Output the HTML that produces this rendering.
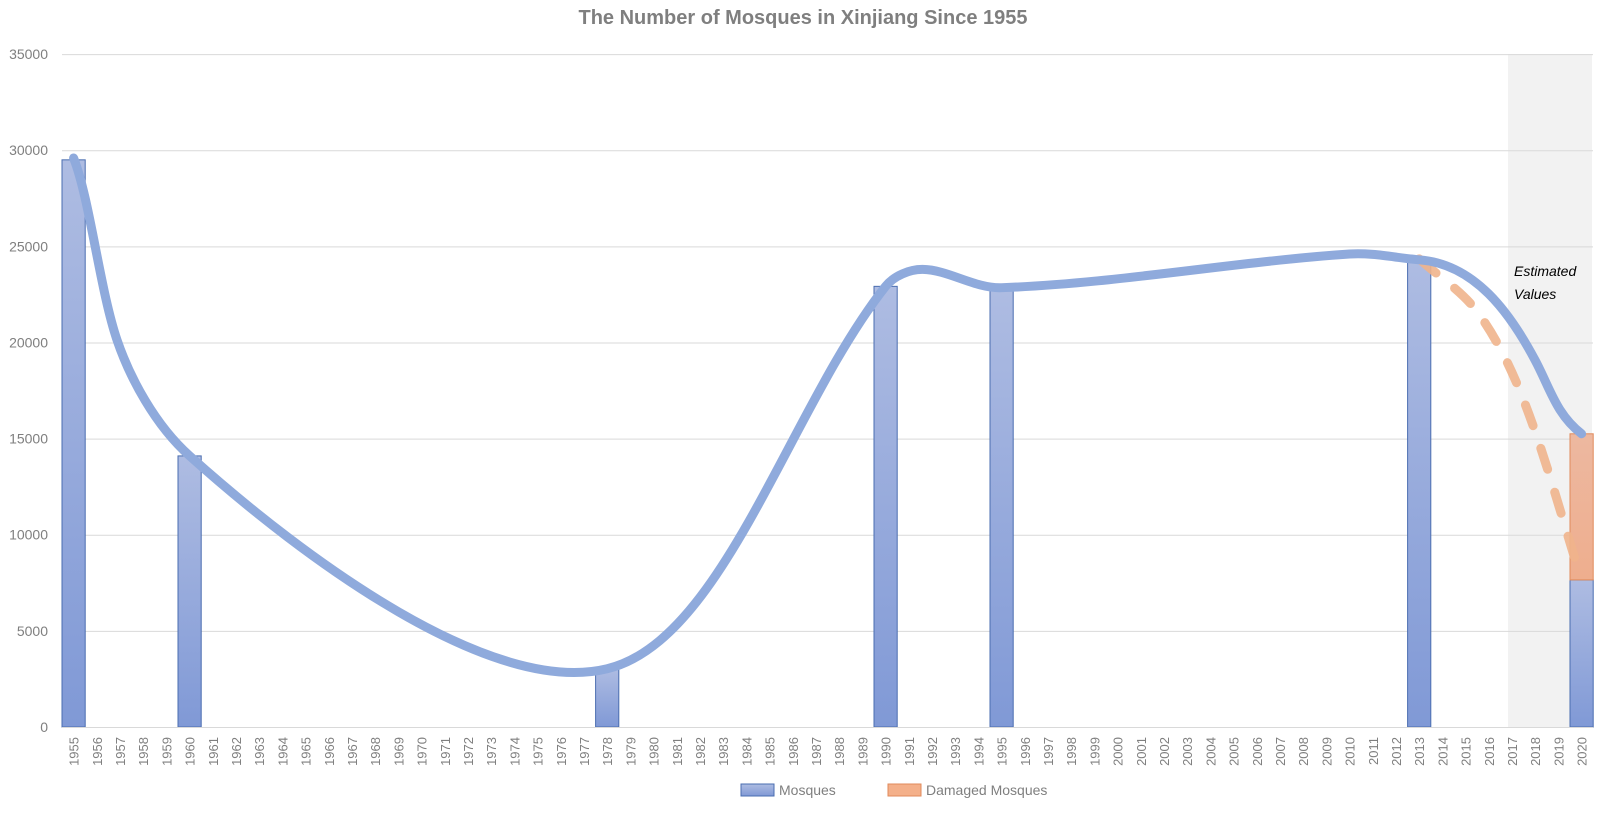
<!DOCTYPE html>
<html><head><meta charset="utf-8"><style>
html,body{margin:0;padding:0;background:#fff;}
svg{display:block;font-family:"Liberation Sans",sans-serif;}
</style></head><body>
<svg id="c" width="1607" height="818" viewBox="0 0 1607 818" xmlns="http://www.w3.org/2000/svg">
<defs>
<linearGradient id="gb" x1="0" y1="0" x2="0" y2="1"><stop offset="0" stop-color="#aebce2"/><stop offset="1" stop-color="#8099d6"/></linearGradient>
<linearGradient id="go" x1="0" y1="0" x2="0" y2="1"><stop offset="0" stop-color="#edb8a0"/><stop offset="1" stop-color="#eeae8e"/></linearGradient>
</defs>
<rect x="1508" y="54" width="84" height="673" fill="#f2f2f2"/>
<text x="803" y="24" text-anchor="middle" font-size="20" font-weight="bold" fill="#7f7f7f">The Number of Mosques in Xinjiang Since 1955</text>
<g id="grid" stroke="#d9d9d9" stroke-width="1"></g>
<g id="ylab" font-size="14" fill="#7f7f7f" text-anchor="end"></g>
<g id="bars"></g>
<line x1="62" y1="727.5" x2="1593" y2="727.5" stroke="#d9d9d9"/>
<g id="xlab" font-size="13" fill="#7f7f7f" text-anchor="end"></g>
<path id="dash" fill="none" stroke="#f0b48c" stroke-width="9" stroke-linecap="round" stroke-dasharray="22 24" opacity="0.9"/>
<path id="line" fill="none" stroke="#8faadc" stroke-width="9" stroke-linecap="round" stroke-linejoin="round"/>
<text x="1514" y="276" font-size="14" font-style="italic" fill="#000">Estimated</text>
<text x="1514" y="299" font-size="14" font-style="italic" fill="#000">Values</text>
<rect x="741" y="784" width="33" height="12" fill="url(#gb)" stroke="#4a6db0"/>
<text x="779" y="795" font-size="14" fill="#7f7f7f">Mosques</text>
<rect x="888" y="784" width="33" height="12" fill="#f4b08a" stroke="#e08a5b"/>
<text x="926" y="795" font-size="14" fill="#7f7f7f">Damaged Mosques</text>
</svg>
<script>
var NS="http://www.w3.org/2000/svg";
function X(y){return 62+23.2*(y-1955+0.5);}
function Y(v){return 727-v*0.019226;}
function el(t,a,p,txt){var e=document.createElementNS(NS,t);for(var k in a)e.setAttribute(k,a[k]);if(txt)e.textContent=txt;document.getElementById(p).appendChild(e);return e;}
for(var i=1;i<=7;i++){var y=Y(i*5000);el("line",{x1:62,x2:1593,y1:y+0.5,y2:y+0.5},"grid");}
for(var i=0;i<=7;i++){el("text",{x:48,y:Y(i*5000)+5},"ylab",String(i*5000));}
for(var yr=1955;yr<=2020;yr++){var cx=X(yr)+5;el("text",{x:cx,y:737,transform:"rotate(-90 "+cx+" 737)"},"xlab",String(yr));}
var bars=[[1955,29500],[1960,14100],[1978,3030],[1990,22920],[1995,22750],[2013,24350],[2020,7650]];
bars.forEach(function(b){var x=X(b[0])-11.6;el("rect",{x:x,y:Y(b[1]),width:23.2,height:727-Y(b[1]),fill:"url(#gb)",stroke:"#4a6db0","stroke-width":1},"bars");});
el("rect",{x:X(2020)-11.6,y:Y(15250),width:23.2,height:Y(7650)-Y(15250),fill:"url(#go)",stroke:"#e08a5b","stroke-width":1},"bars");
function smoothPx(P,startT,noMove){
 var d=noMove?"":"M"+P[0][0]+" "+P[0][1];
 function L(a,b){return Math.hypot(b[0]-a[0],b[1]-a[1]);}
 for(var i=0;i<P.length-1;i++){
  var p0=P[i],p1=P[i+1],pm=P[i-1],p2=P[i+2];
  var l1=L(p0,p1),c1,c2;
  if(pm){var l0=L(pm,p0),f=l1/(l0+l1)/3;c1=[p0[0]+(p1[0]-pm[0])*f,p0[1]+(p1[1]-pm[1])*f];}
  else if(startT){var n=Math.hypot(startT[0],startT[1]);c1=[p0[0]+startT[0]/n*l1/3,p0[1]+startT[1]/n*l1/3];}
  else c1=[p0[0]+(p1[0]-p0[0])/3,p0[1]+(p1[1]-p0[1])/3];
  if(p2){var l2=L(p1,p2),g=l1/(l1+l2)/3;c2=[p1[0]-(p2[0]-p0[0])*g,p1[1]-(p2[1]-p0[1])*g];}
  else c2=[p1[0]-(p1[0]-p0[0])/3,p1[1]-(p1[1]-p0[1])/3];
  d+=" C"+c1[0]+" "+c1[1]+" "+c2[0]+" "+c2[1]+" "+p1[0]+" "+p1[1];
 }
 return d;
}
function V(y,v){return [X(y),Y(v)];}
var p60=V(1960,14100);
var d="M73.6 158 C90 200 100 290 117 340 C130 378 155 425 "+p60[0]+" "+p60[1];
var mid=[p60,V(1978,3030),V(1990,22920),V(1991.6,23800),V(1995,22850),V(2010,24600),V(2013,24300)];
d+=smoothPx(mid,[34.6,31],true);
var p20=V(2020,15250);
d+=" C1475 264 1510 313 1535 360 C1550 388 1556 414 "+p20[0]+" "+p20[1];
document.getElementById("line").setAttribute("d",d);
document.getElementById("dash").setAttribute("d",smoothPx([V(2013,24350),V(2015.5,21600),V(2017.5,17000),V(2020,7650)]));
</script>
</body></html>
